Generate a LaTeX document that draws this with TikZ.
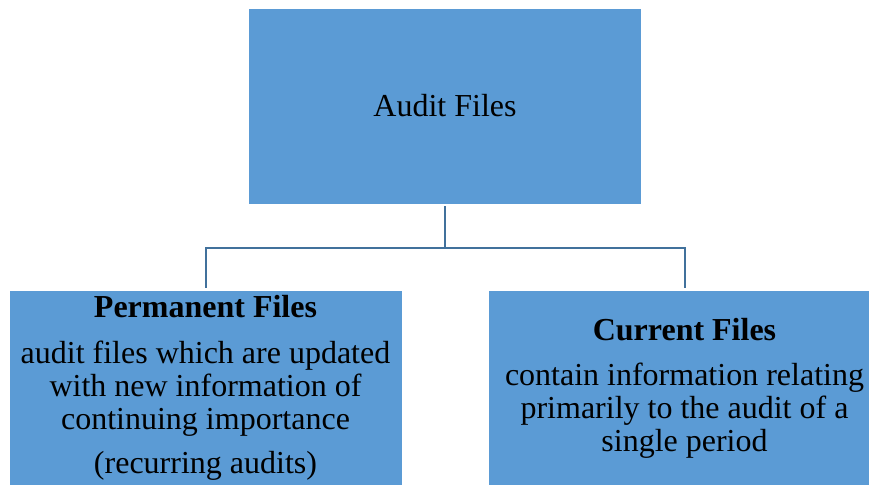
\documentclass[tikz,border=0pt]{standalone}
\usepackage{fontspec}
\setmainfont{Liberation Serif}
\usetikzlibrary{positioning}
\definecolor{Office_Blue}{HTML}{5B9BD5}
\definecolor{Office_Line}{HTML}{41719C}

\begin{document}
\begin{tikzpicture}[
  x=1pt, y=-1pt, every node/.style={font=\fontsize{32}{33}\selectfont},
  filebox/.style={draw=white, line width=0.6pt, fill=Office_Blue,
    minimum width=393pt, inner sep=0pt},
  boxtext/.style={align=center, anchor=base, inner sep=0pt},
  link/.style={draw=Office_Line, line width=2pt, shorten <=2pt, shorten >=2pt}
]
  \useasboundingbox (0,0) rectangle (869,484);

  % Top level
  \node[filebox, minimum height=196pt] (audit) at (445,106) {Audit Files};

  % Second level boxes
  \node[filebox, minimum height=200pt, anchor=north] (perm) at (205.5,290) {};
  \node[filebox, minimum height=200pt, anchor=north] (curr) at (684.5,290) {};

  % Box texts (base sits on the last line)
  \node[boxtext] (permtext) at (perm.north |- 0,473)
    {\textbf{Permanent Files}\\[13pt]
     audit files which are updated\\
     with new information of\\
     continuing importance\\[11pt]
     (recurring audits)};
  \node[boxtext] (currtext) at (curr.north |- 0,451)
    {\textbf{Current Files}\\[12pt]
     contain information relating\\
     primarily to the audit of a\\
     single period};

  % Tree connectors
  \draw[link] (audit.south) -- ++(0,43.5) -| (perm.north);
  \draw[link] (audit.south) -- ++(0,43.5) -| (curr.north);
\end{tikzpicture}
\end{document}
